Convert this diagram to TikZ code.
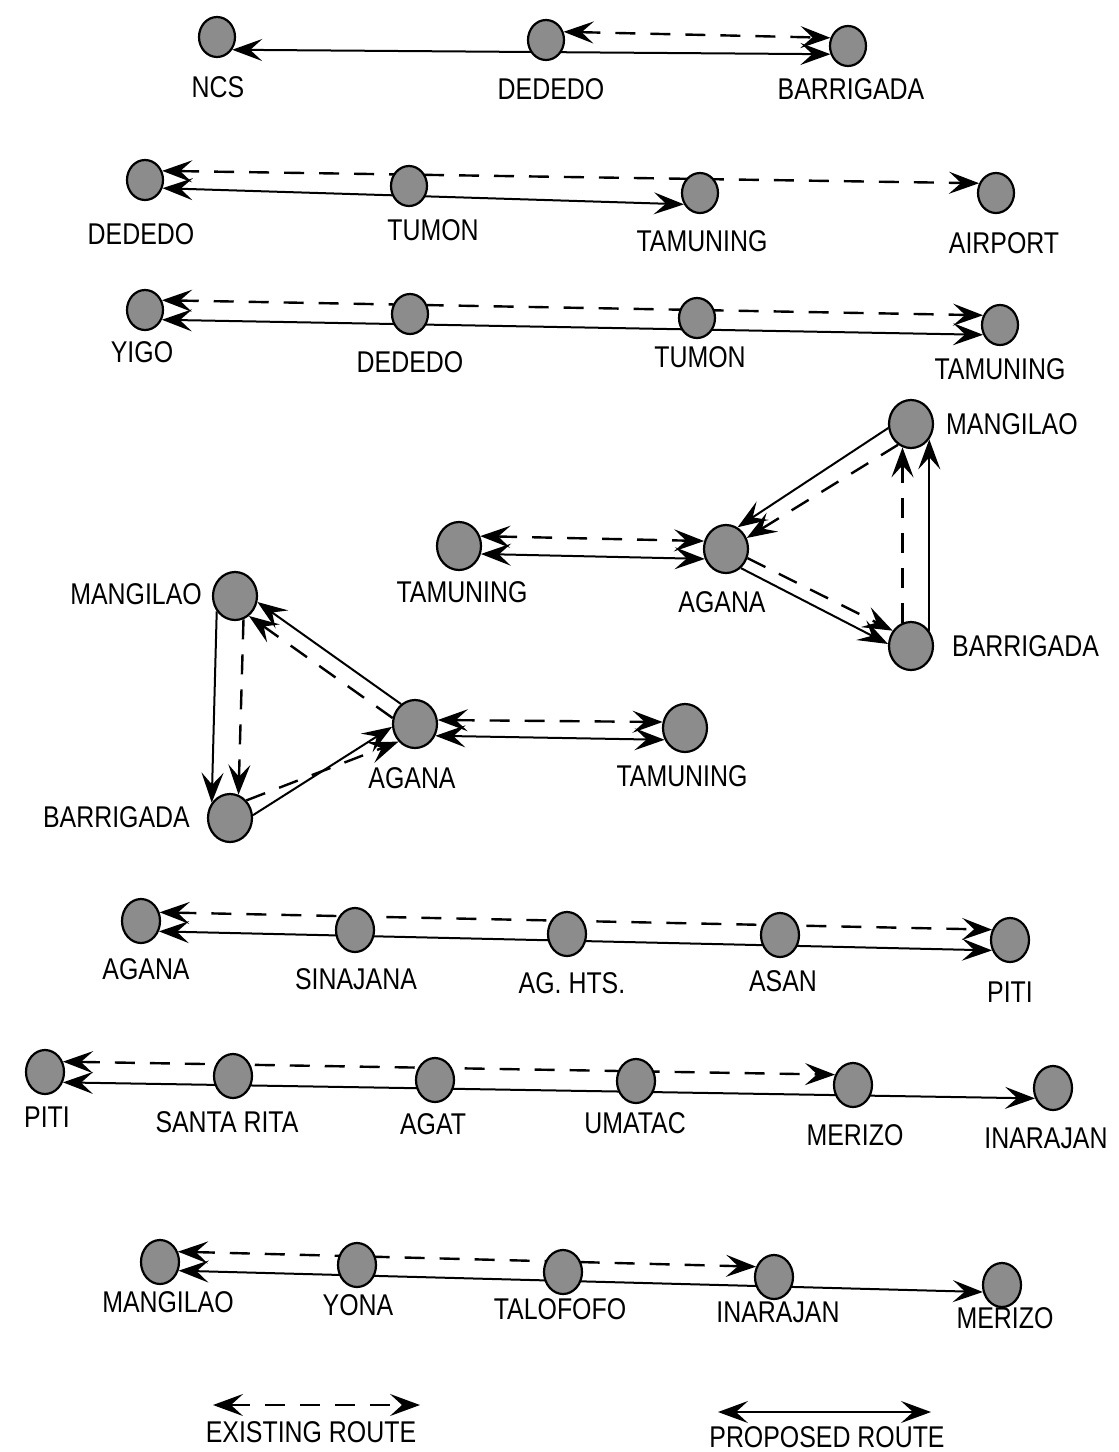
\documentclass[tikz,border=0pt]{standalone}
\usepackage{fontspec}
\setmainfont{Liberation Sans}[FakeStretch=0.83]
\usetikzlibrary{arrows.meta,shapes.geometric,calc}
\pgfdeclarelayer{bg}
\pgfsetlayers{bg,main}
\begin{document}
\begin{tikzpicture}[x=1pt,y=-1pt,
  rt/.tip={Stealth[length=30pt,width=22pt,inset=12pt]},
  stn/.style={ellipse,draw,line width=2.2pt,fill=black!45,minimum width=36pt,minimum height=40pt,inner sep=0pt},
  tall/.style={stn,minimum width=38pt,minimum height=44pt},
  big/.style={stn,minimum width=44pt,minimum height=48pt},
  lbl/.style={font=\fontsize{30}{30}\selectfont,inner sep=0pt},
  route/.style={line width=2pt},
  ex/.style={route,line width=2.4pt,dash pattern=on 20pt off 15pt},
  pr/.style={route}]
\useasboundingbox (0,0) rectangle (1119,1452);

% ---------- row 1
\node[stn] (ncs) at (217,37) {};
\node[stn] (ded1) at (546,40) {};
\node[stn] (bar1) at (848,46) {};
\node[lbl] (l-ncs) at (218,87) {NCS};
\node[lbl] (l-ded1) at (551,89) {DEDEDO};
\node[lbl] (l-bar1) at (851,89) {BARRIGADA};

% ---------- row 2
\node[stn] (ded2) at (145,180) {};
\node[stn] (tum2) at (409,186) {};
\node[stn] (tam2) at (700,193) {};
\node[stn] (air) at (996,193) {};
\node[lbl] (l-ded2) at (141,234) {DEDEDO};
\node[lbl] (l-tum2) at (433,230) {TUMON};
\node[lbl] (l-tam2) at (702,241) {TAMUNING};
\node[lbl] (l-air) at (1004,243) {AIRPORT};

% ---------- row 3
\node[stn] (yigo) at (145,310) {};
\node[stn] (ded3) at (410,314) {};
\node[stn] (tum3) at (697,318) {};
\node[stn] (tam3) at (1000,325) {};
\node[lbl] (l-yigo) at (142,352) {YIGO};
\node[lbl] (l-ded3) at (410,362) {DEDEDO};
\node[lbl] (l-tum3) at (700,357) {TUMON};
\node[lbl] (l-tam3) at (1000,369) {TAMUNING};

% ---------- upper triangle
\node[big] (manA) at (911,424) {};
\node[big] (tamA) at (459,546) {};
\node[big] (agaA) at (726,549) {};
\node[big] (barA) at (911,646) {};
\node[lbl,anchor=west] (l-manA) at (946,424) {MANGILAO};
\node[lbl] (l-tamA) at (462,592) {TAMUNING};
\node[lbl] (l-agaA) at (722,602) {AGANA};
\node[lbl,anchor=west] (l-barA) at (952,646) {BARRIGADA};

% ---------- lower triangle
\node[big] (manB) at (235,596) {};
\node[big] (agaB) at (415,724) {};
\node[big] (tamB) at (685,728) {};
\node[big] (barB) at (230,818) {};
\node[lbl,anchor=east] (l-manB) at (202,594) {MANGILAO};
\node[lbl] (l-agaB) at (412,778) {AGANA};
\node[lbl] (l-tamB) at (682,776) {TAMUNING};
\node[lbl,anchor=east] (l-barB) at (190,817) {BARRIGADA};

% ---------- row 7
\node[tall] (aga7) at (141,921) {};
\node[tall] (sin) at (355,930) {};
\node[tall] (aght) at (567,934) {};
\node[tall] (asan) at (780,935) {};
\node[tall] (piti7) at (1010,940) {};
\node[lbl] (l-aga7) at (146,969) {AGANA};
\node[lbl] (l-sin) at (356,979) {SINAJANA};
\node[lbl] (l-aght) at (572,983) {AG. HTS.};
\node[lbl] (l-asan) at (783,981) {ASAN};
\node[lbl] (l-piti7) at (1010,992) {PITI};

% ---------- row 8
\node[tall] (piti8) at (45,1072) {};
\node[tall] (srita) at (233,1076) {};
\node[tall] (agat) at (435,1080) {};
\node[tall] (umat) at (636,1081) {};
\node[tall] (mer8) at (853,1085) {};
\node[tall] (ina8) at (1053,1088) {};
\node[lbl] (l-piti8) at (47,1117) {PITI};
\node[lbl] (l-srita) at (227,1122) {SANTA RITA};
\node[lbl] (l-agat) at (433,1124) {AGAT};
\node[lbl] (l-umat) at (635,1123) {UMATAC};
\node[lbl] (l-mer8) at (855,1135) {MERIZO};
\node[lbl] (l-ina8) at (1046,1138) {INARAJAN};

% ---------- row 9
\node[tall] (man9) at (160,1262) {};
\node[tall] (yona) at (357,1265) {};
\node[tall] (talo) at (563,1272) {};
\node[tall] (ina9) at (774,1277) {};
\node[tall] (mer9) at (1002,1285) {};
\node[lbl] (l-man9) at (168,1302) {MANGILAO};
\node[lbl] (l-yona) at (358,1305) {YONA};
\node[lbl] (l-talo) at (560,1309) {TALOFOFO};
\node[lbl] (l-ina9) at (778,1312) {INARAJAN};
\node[lbl] (l-mer9) at (1005,1318) {MERIZO};

% ---------- legend
\coordinate (exA) at (213,1405);
\coordinate (exB) at (420,1405);
\coordinate (prA) at (718,1412);
\coordinate (prB) at (931,1412);
\node[lbl] (l-ex) at (311,1432) {EXISTING ROUTE};
\node[lbl] (l-pr) at (827,1437) {PROPOSED ROUTE};

\begin{pgfonlayer}{bg}
% row 1
\draw[ex,rt-rt] (ded1.25) -- (bar1.155);
\draw[pr,rt-rt] (ncs.-40) -- (bar1.-155);
% row 2
\draw[ex,rt-rt] (ded2.28) -- (air.150);
\draw[pr,rt-rt] (ded2.-25) -- (tam2.-145);
% row 3
\draw[ex,rt-rt] (yigo.30) -- (tam3.150);
\draw[pr,rt-rt] (yigo.-30) -- (tam3.-150);
% upper triangle
\draw[ex,rt-rt] (tamA.25) -- (agaA.160);
\draw[pr,rt-rt] (tamA.-20) -- (agaA.-155);
\draw[pr,-rt] (manA.190) -- (agaA.62);
\draw[ex,-rt] (manA.238) -- (agaA.28);
\draw[ex,-rt] (agaA.-23) -- (barA.140);
\draw[pr,-rt] (agaA.-52) -- (barA.175);
\draw[ex,-rt] (barA.110) -- (manA.250);
\draw[pr,-rt] (barA.40) -- (manA.-40);
% lower triangle
\draw[pr,-rt] (agaB.125) -- (manB.-15);
\draw[ex,-rt] (agaB.165) -- (manB.-55);
\draw[pr,-rt] (manB.220) -- (barB.140);
\draw[ex,-rt] (manB.290) -- (barB.70);
\draw[ex,-rt] (barB.47) -- (agaB.227);
\draw[pr,-rt] (barB.7) -- (agaB.187);
\draw[ex,rt-rt] (agaB.10) -- (tamB.165);
\draw[pr,rt-rt] (agaB.-30) -- (tamB.-150);
% row 7
\draw[ex,rt-rt] (aga7.25) -- (piti7.150);
\draw[pr,rt-rt] (aga7.-30) -- (piti7.-150);
% row 8
\draw[ex,rt-rt] (piti8.30) -- (mer8.150);
\draw[pr,rt-rt] (piti8.-30) -- (ina8.-150);
% row 9
\draw[ex,rt-rt] (man9.30) -- (ina9.150);
\draw[pr,rt-rt] (man9.-25) -- (mer9.-160);
% legend
\draw[ex,rt-rt] (exA) -- (exB);
\draw[pr,rt-rt] (prA) -- (prB);
\end{pgfonlayer}
\end{tikzpicture}
\end{document}
